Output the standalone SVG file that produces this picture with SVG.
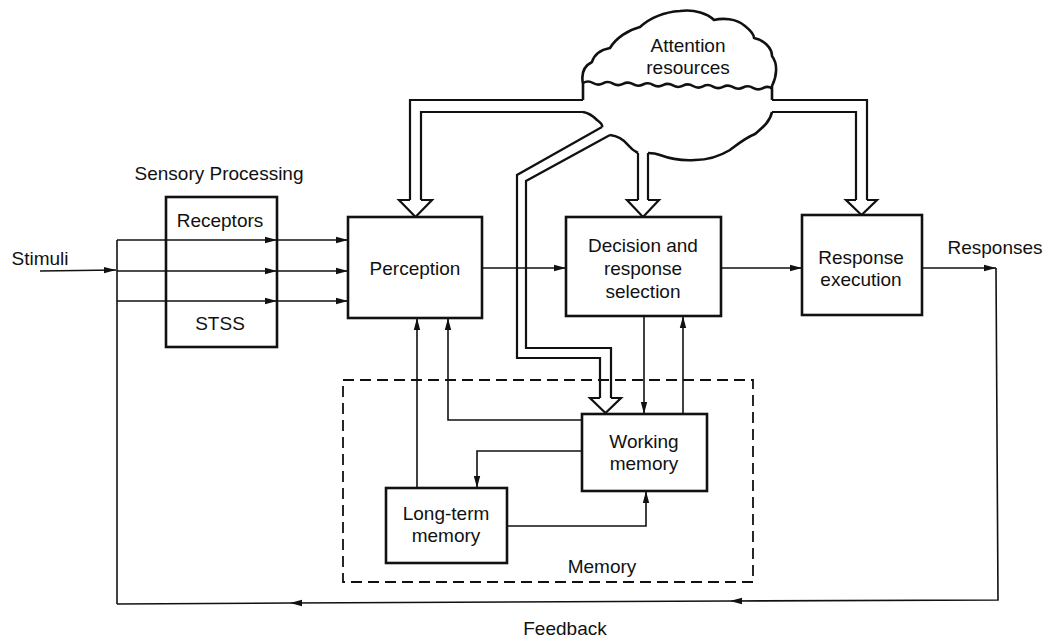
<svg xmlns="http://www.w3.org/2000/svg" width="1052" height="643" viewBox="0 0 1052 643">
<defs>
<marker id="ah" viewBox="0 0 12 8" refX="12" refY="4" markerWidth="12" markerHeight="8" markerUnits="userSpaceOnUse" orient="auto">
<path d="M0,0.8 L12,4 L0,7.2 Z" fill="#111"/>
</marker>
<style>
.box{fill:#fff;stroke:#111;stroke-width:2.6}
.ln{fill:none;stroke:#111;stroke-width:1.6}
.hl{fill:none;stroke:#111;stroke-width:2.2}
.hh{fill:#fff;stroke:#111;stroke-width:2.2;stroke-linejoin:miter}
.cl{fill:none;stroke:#111;stroke-width:2.6;stroke-linejoin:round}
.dash{fill:none;stroke:#111;stroke-width:1.8;stroke-dasharray:11 6}
text{font-family:"Liberation Sans",Arial,sans-serif;font-size:19px;fill:#111;text-anchor:middle}
</style>
</defs>
<rect width="1052" height="643" fill="#fff"/>

<g id="memory-group">
<rect class="dash" x="343" y="380" width="410" height="202"/>
<text x="602" y="573">Memory</text>
</g>

<g id="connectors">
<!-- stimuli inputs -->
<path class="ln" d="M40,271 L116,270" marker-end="url(#ah)"/>
<path class="ln" d="M117,240 V604"/>
<path class="ln" d="M117,240 H277" marker-end="url(#ah)"/>
<path class="ln" d="M277,240 H348" marker-end="url(#ah)"/>
<path class="ln" d="M117,271 H277" marker-end="url(#ah)"/>
<path class="ln" d="M277,271 H348" marker-end="url(#ah)"/>
<path class="ln" d="M117,301 H277" marker-end="url(#ah)"/>
<path class="ln" d="M277,301 H348" marker-end="url(#ah)"/>
<!-- main chain -->
<path class="ln" d="M482,268 H566" marker-end="url(#ah)"/>
<path class="ln" d="M721,268 H802" marker-end="url(#ah)"/>
<path class="ln" d="M922,268 H996" marker-end="url(#ah)"/>
<!-- feedback -->
<path class="ln" d="M996,268 L998,600 L730,601" marker-end="url(#ah)"/>
<path class="ln" d="M730,601 L290,603" marker-end="url(#ah)"/>
<path class="ln" d="M290,603 L117,604"/>
<!-- decision <-> working memory -->
<path class="ln" d="M644,316 V414" marker-end="url(#ah)"/>
<path class="ln" d="M683,414 V316" marker-end="url(#ah)"/>
<!-- working memory -> perception -->
<path class="ln" d="M582,420 H448 V318" marker-end="url(#ah)"/>
<!-- working memory -> long-term -->
<path class="ln" d="M582,451 H477 V488" marker-end="url(#ah)"/>
<!-- long-term -> perception -->
<path class="ln" d="M417,488 V318" marker-end="url(#ah)"/>
<!-- long-term -> working memory -->
<path class="ln" d="M507,526 H646 V491" marker-end="url(#ah)"/>

<!-- hollow attention arrows -->
<path class="hl" d="M583,100 H410 V200"/>
<path class="hl" d="M583,112 H421 V200"/>
<polyline class="hh" points="410,200 399,200 415.5,217 432,200 421,200"/>

<path class="hl" d="M638,153 V200"/>
<path class="hl" d="M648,153 V200"/>
<polyline class="hh" points="638,200 627,200 643,217 659,200 648,200"/>

<path class="hl" d="M772,100 H867 V200"/>
<path class="hl" d="M772,112 H856 V200"/>
<polyline class="hh" points="856,200 846,200 861.5,215 877,200 867,200"/>

<path class="hl" d="M602,127 L517,175 V358 H600 V398"/>
<path class="hl" d="M610,135 L526,181 V348 H611 V398"/>
<polyline class="hh" points="600,398 590,398 605.5,413 621,398 611,398"/>
</g>

<g id="attention">
<path class="cl" d="M583,100 V84 C581,74 584,66 592,62 C594,55 600,50 610,48 C616,38 628,30 640,27 C650,18 665,12 680,11 C695,9 708,14 714,20 C722,18 736,18 745,26 C750,30 754,34 754,38 C764,40 772,48 772,56 C778,64 777,76 772,86 V100"/>
<path class="cl" d="M583,83 q5,-3 10,0 t10,0.3 t10,0.3 t10,0.3 t10,0.3 t10,0.3 t10,0.3 t10,0.3 t10,0.3 t10,0.3 t10,0.3 t10,0.3 t10,0.3 t10,0.3 t10,0.3 t10,0.3 t10,0.3 t10,0.3 t9,0.3"/>
<path class="cl" d="M583,112 C590,113 594,117 597,120 C601,123 603,125 602,127"/>
<path class="cl" d="M610,135 C618,136 624,140 628,145 C632,150 636,152 638,153"/>
<path class="cl" d="M772,112 C770,122 762,128 755,134 C745,138 738,144 730,150 C720,156 710,160 695,160 C680,161 668,158 660,155 C655,153 651,153 648,153"/>
<text x="688" y="52">Attention</text>
<text x="688" y="74">resources</text>
</g>

<g id="sensory">
<text x="219" y="180">Sensory Processing</text>
<rect class="box" x="166" y="197" width="111" height="150" fill="none" style="fill:none"/>
<text x="220" y="227">Receptors</text>
<text x="220" y="330">STSS</text>
</g>

<g id="stimuli">
<text x="40" y="265">Stimuli</text>
</g>

<g id="perception">
<rect class="box" x="348" y="217" width="134" height="101"/>
<text x="415" y="275">Perception</text>
</g>

<g id="decision">
<rect class="box" x="566" y="217" width="155" height="99"/>
<text x="643" y="252">Decision and</text>
<text x="643" y="275">response</text>
<text x="643" y="298">selection</text>
</g>

<g id="response">
<rect class="box" x="802" y="215" width="120" height="100"/>
<text x="861" y="264">Response</text>
<text x="861" y="286">execution</text>
</g>

<g id="responses">
<text x="995" y="254">Responses</text>
</g>

<g id="working-memory">
<rect class="box" x="582" y="414" width="125" height="77"/>
<text x="644" y="448">Working</text>
<text x="644" y="470">memory</text>
</g>

<g id="long-term-memory">
<rect class="box" x="386" y="488" width="121" height="75"/>
<text x="446" y="520">Long-term</text>
<text x="446" y="542">memory</text>
</g>

<g id="feedback">
<text x="565" y="635">Feedback</text>
</g>
</svg>
